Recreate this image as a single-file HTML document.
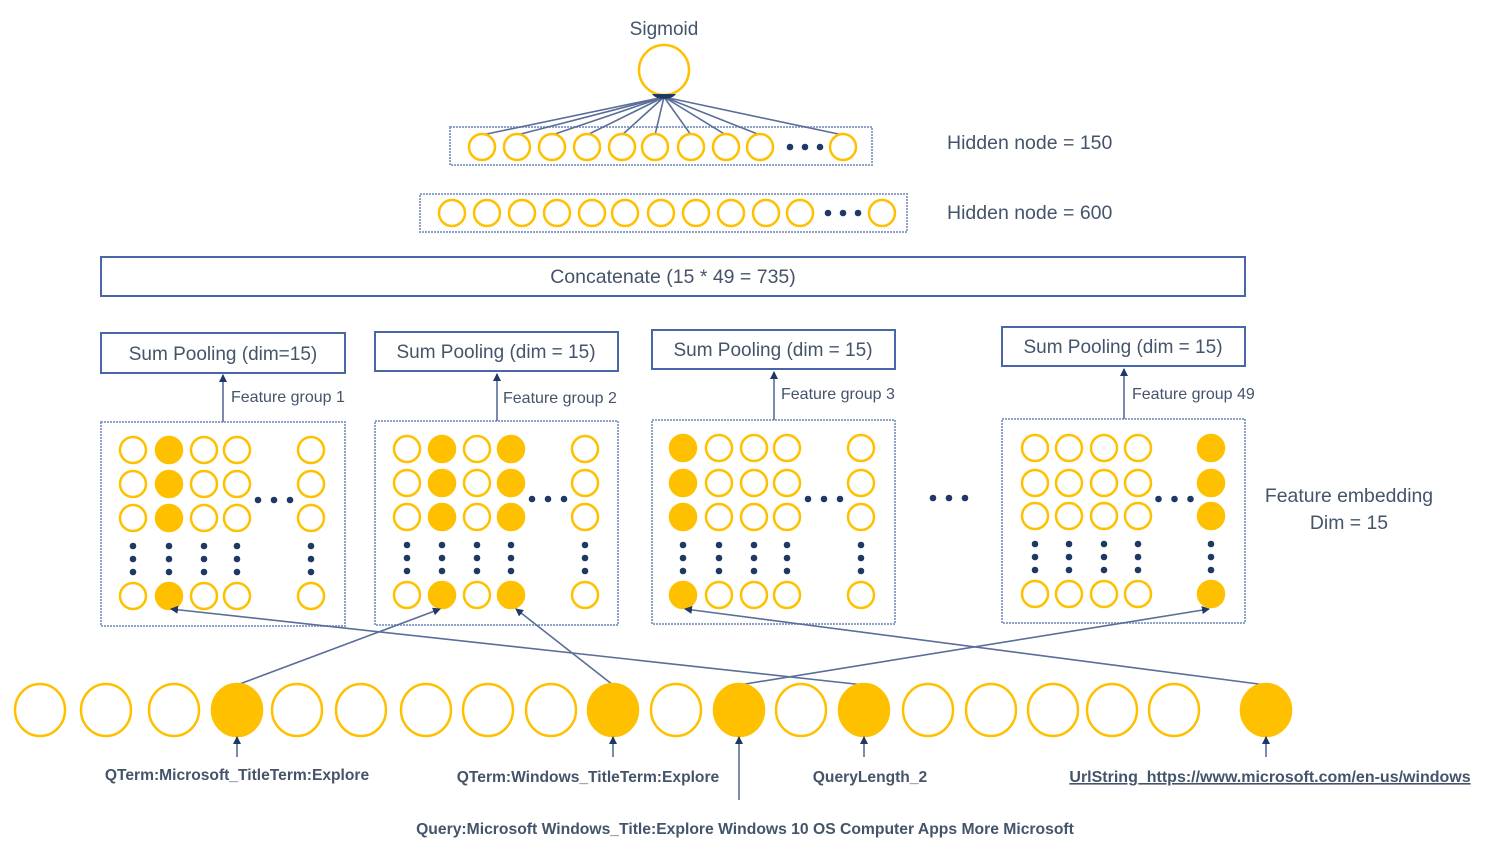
<!DOCTYPE html>
<html><head><meta charset="utf-8"><style>
body{margin:0;background:#fff}
svg{display:block}
text{font-family:"Liberation Sans",sans-serif;fill:#44546A}
</style></head><body>
<svg id="s" width="1499" height="857" viewBox="0 0 1499 857" xmlns="http://www.w3.org/2000/svg">
<defs><marker id="ar" markerWidth="8" markerHeight="8" refX="7" refY="4" orient="auto" markerUnits="userSpaceOnUse"><path d="M0,0 L8,4 L0,8 z" fill="#1F3864"/></marker></defs>
<text x="664" y="35" font-size="19" text-anchor="middle">Sigmoid</text>
<rect x="450" y="127" width="422" height="38" fill="none" stroke="#8FA3C8" stroke-width="2" stroke-dasharray="2,1"/>
<rect x="420" y="194" width="487" height="38" fill="none" stroke="#8FA3C8" stroke-width="2" stroke-dasharray="2,1"/>
<text x="947" y="149" font-size="19.5">Hidden node = 150</text>
<text x="947" y="219" font-size="19.5">Hidden node = 600</text>
<rect x="101" y="257" width="1144" height="39" fill="none" stroke="#4A66A8" stroke-width="2"/>
<text x="673" y="283" font-size="19.5" text-anchor="middle">Concatenate (15 * 49 = 735)</text>
<rect x="101" y="333" width="244" height="40" fill="none" stroke="#4A66A8" stroke-width="2"/>
<text x="223" y="360" font-size="19" text-anchor="middle">Sum Pooling (dim=15)</text>
<rect x="375" y="332" width="243" height="39" fill="none" stroke="#4A66A8" stroke-width="2"/>
<text x="496" y="358" font-size="19" text-anchor="middle">Sum Pooling (dim = 15)</text>
<rect x="652" y="330" width="243" height="39" fill="none" stroke="#4A66A8" stroke-width="2"/>
<text x="773" y="356" font-size="19" text-anchor="middle">Sum Pooling (dim = 15)</text>
<rect x="1002" y="327" width="243" height="39" fill="none" stroke="#4A66A8" stroke-width="2"/>
<text x="1123" y="353" font-size="19" text-anchor="middle">Sum Pooling (dim = 15)</text>
<text x="231" y="402" font-size="16">Feature group 1</text>
<text x="503" y="403" font-size="16">Feature group 2</text>
<text x="781" y="399" font-size="16">Feature group 3</text>
<text x="1132" y="399" font-size="16">Feature group 49</text>
<text x="1349" y="502" font-size="19.4" text-anchor="middle">Feature embedding</text>
<text x="1349" y="529" font-size="19.4" text-anchor="middle">Dim = 15</text>
<g font-weight="bold">
<text x="237" y="780" text-anchor="middle" font-size="15.6">QTerm:Microsoft_TitleTerm:Explore</text>
<text x="588" y="782" text-anchor="middle" font-size="15.6">QTerm:Windows_TitleTerm:Explore</text>
<text x="870" y="782" text-anchor="middle" font-size="15.6">QueryLength_2</text>
<text x="1270" y="782" text-anchor="middle" font-size="16" text-decoration="underline">UrlString_https://www.microsoft.com/en-us/windows</text>
<text x="745" y="834" text-anchor="middle" font-size="15.7">Query:Microsoft Windows_Title:Explore  Windows 10 OS Computer Apps More Microsoft</text>
</g>
<g id="g"></g>
</svg>
<script>
var g=document.getElementById('g'),NS='http://www.w3.org/2000/svg';
function el(t,a){var e=document.createElementNS(NS,t);for(var k in a)e.setAttribute(k,a[k]);g.appendChild(e);return e;}
var Y='#FFC000',N='#1F3864',L='#5A6E99';
function c(x,y,r,f){el('circle',{cx:x,cy:y,r:r,fill:f?Y:'#fff',stroke:Y,'stroke-width':2.5});}
function d(x,y){el('circle',{cx:x,cy:y,r:3.3,fill:N});}
function ln(x1,y1,x2,y2,m){var a={x1:x1,y1:y1,x2:x2,y2:y2,stroke:L,'stroke-width':1.6};if(m)a['marker-end']='url(#ar)';el('line',a);}
var h1=[482,517,552,587,622,655,691,726,760,843];
h1.forEach(function(x){ln(664,97,x,135);});
c(664,70,25,0);
el('path',{d:'M652,94 A13,8 0 0 0 676,94 z',fill:N});
h1.forEach(function(x){c(x,147,13,0);});
[790,805,820].forEach(function(x){d(x,147);});
[452,487,522,557,592,625,661,696,731,766,800,882].forEach(function(x){c(x,213,13,0);});
[828,843,858].forEach(function(x){d(x,213);});
var G=[{b:[101,422,244,204],cols:[133,169,204,237,311],rows:[450,484,518,596],f:[1],a:223,ay:[422,375]},
{b:[375,421,243,204],cols:[407,442,477,511,585],rows:[449,483,517,595],f:[1,3],a:497,ay:[421,374]},
{b:[652,420,243,204],cols:[683,719,754,787,861],rows:[448,483,517,595],f:[0],a:774,ay:[420,372]},
{b:[1002,419,243,204],cols:[1035,1069,1104,1138,1211],rows:[448,483,516,594],f:[4],a:1124,ay:[419,369]}];
G.forEach(function(o){
 el('rect',{x:o.b[0],y:o.b[1],width:o.b[2],height:o.b[3],fill:'none',stroke:'#8FA3C8','stroke-width':2,'stroke-dasharray':'2,1'});
 ln(o.a,o.ay[0],o.a,o.ay[1],1);
 o.cols.forEach(function(x,i){o.rows.forEach(function(y){c(x,y,13,o.f.indexOf(i)>=0);});
  [o.rows[2]+28,o.rows[2]+41,o.rows[2]+54].forEach(function(y){d(x,y);});});
 var mx=(o.cols[3]+o.cols[4])/2;[mx-16,mx,mx+16].forEach(function(x){d(x,o.rows[1]+16);});
});
[933,949,965].forEach(function(x){d(x,498);});
var bx=[40,106,174,237,297,361,426,488,551,613,676,739,801,864,928,991,1053,1112,1174,1266],bf=[237,613,739,864,1266];
ln(237,685,440,609,1);ln(613,685,516,609,1);ln(739,685,1209,609,1);ln(864,685,171,609,1);ln(1266,685,685,609,1);
bx.forEach(function(x){el('ellipse',{cx:x,cy:710,rx:25,ry:26,fill:bf.indexOf(x)>=0?Y:'#fff',stroke:Y,'stroke-width':2.5});});
[237,613,864,1266].forEach(function(x){ln(x,757,x,737,1);});
ln(739,800,739,737,1);
</script>
</body></html>
